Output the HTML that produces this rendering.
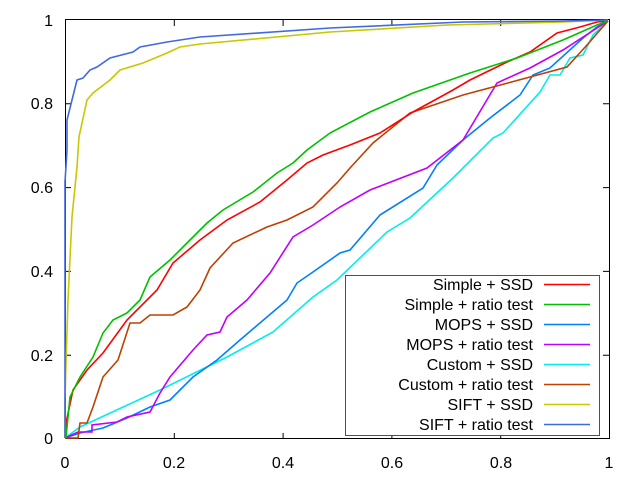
<!DOCTYPE html><html><head><style>body{margin:0;background:#fff}svg{display:block}text{font-family:"Liberation Sans",sans-serif;font-size:16px;fill:#000}</style></head><body>
<svg width="640" height="480" xmlns="http://www.w3.org/2000/svg">
<g stroke="#000" stroke-width="1" fill="none">
<rect x="65.5" y="19.5" width="544" height="419"/>
<path d="M174.3 439v-6M283.1 439v-6M391.9 439v-6M500.7 439v-6M174.3 20v6M283.1 20v6M391.9 20v6M500.7 20v6M65 355.2h6M65 271.4h6M65 187.6h6M65 103.8h6M609 355.2h-6M609 271.4h-6M609 187.6h-6M609 103.8h-6"/>
</g>
<g text-anchor="middle"><text x="65" y="468">0</text><text x="174" y="468">0.2</text><text x="283" y="468">0.4</text><text x="392" y="468">0.6</text><text x="501" y="468">0.8</text><text x="609" y="468">1</text></g>
<g text-anchor="end"><text x="53" y="444">0</text><text x="53" y="361">0.2</text><text x="53" y="277">0.4</text><text x="53" y="193">0.6</text><text x="53" y="109">0.8</text><text x="53" y="26">1</text></g>
<g fill="none" stroke-width="1.6">
<polyline stroke="#00eeee" points="65,438 80,427 160,390 227,357 273,332 313,297 337,280 387,232 410,218 453,178 493,138 503,133 540,92 550,75 560,75 570,58 583,55 593,35 608,21"/>
<polyline stroke="#0080ff" points="65,438 80,433 103,428 127,418 150,407 170,400 193,377 217,360 240,340 267,317 287,300 297,283 313,272 340,253 350,250 380,215 423,188 437,165 463,140 490,118 520,95 533,75 550,68 583,38 597,27 608,21"/>
<polyline stroke="#c000ff" points="65,438 78,432 92,432 92,425 117,422 127,417 150,412 160,393 170,377 193,350 207,335 220,332 227,317 247,300 270,273 293,237 313,225 340,207 370,190 427,168 463,140 497,83 530,68 563,50 597,28 608,21"/>
<polyline stroke="#c04000" points="65,438 78,438 80,423 87,423 93,407 103,377 118,360 130,323 140,323 150,315 173,315 187,307 200,290 210,268 233,243 267,227 287,220 313,207 337,183 350,168 373,143 410,113 463,95 530,77 567,67 587,45 608,21"/>
<polyline stroke="#ff0000" points="65,438 66,423 73,390 87,370 103,353 127,320 157,290 173,263 200,240 227,220 260,202 287,180 307,163 323,155 350,145 380,133 413,112 453,90 470,80 507,62 530,52 557,33 580,27 597,22 608,21"/>
<polyline stroke="#00c000" points="65,438 66,437 70,397 80,377 93,357 103,333 113,320 127,313 140,300 150,277 170,260 187,243 207,223 223,210 253,192 277,173 293,163 307,150 330,133 370,112 413,93 470,73 517,58 563,40 597,25 608,21"/>
<polyline stroke="#c8c800" points="65,438 65,400 66,363 68,300 72,217 77,167 79,137 87,100 93,93 110,80 120,70 143,63 167,53 180,47 200,44 330,32 447,25 563,22 608,20"/>
<polyline stroke="#4169e1" points="65,438 65,182 67,150 67,120 72,100 77,80 83,78 90,70 97,67 110,58 133,52 140,47 167,42 200,37 330,28 463,22 563,21 608,20"/>
</g>
<rect x="345.5" y="275.5" width="254" height="160" fill="#fff" stroke="#0060d0"/>
<g text-anchor="end">
<text x="533" y="290">Simple + SSD</text><text x="533" y="310">Simple + ratio test</text><text x="533" y="330">MOPS + SSD</text><text x="533" y="350">MOPS + ratio test</text><text x="533" y="370">Custom + SSD</text><text x="533" y="390">Custom + ratio test</text><text x="533" y="410">SIFT + SSD</text><text x="533" y="430">SIFT + ratio test</text>
</g>
<g stroke-width="1.6">
<path d="M544 284.5h46" stroke="#ff0000"/><path d="M544 304.5h46" stroke="#00c000"/><path d="M544 324.5h46" stroke="#0080ff"/><path d="M544 344.5h46" stroke="#c000ff"/><path d="M544 364.5h46" stroke="#00eeee"/><path d="M544 384.5h46" stroke="#c04000"/><path d="M544 404.5h46" stroke="#c8c800"/><path d="M544 424.5h46" stroke="#4169e1"/>
</g>
</svg></body></html>
